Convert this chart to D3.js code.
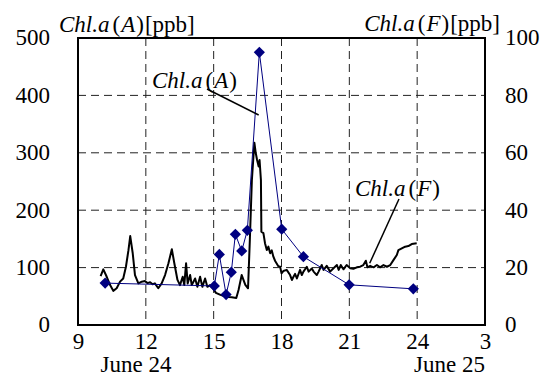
<!DOCTYPE html>
<html>
<head>
<meta charset="utf-8">
<script src="https://cdn.jsdelivr.net/npm/d3@7"></script>
<style>
  html, body { margin: 0; padding: 0; background: #fff; }
  svg { display: block; }
  svg text { font-family: "Liberation Serif", "Times New Roman", serif; }
</style>
</head>
<body>
<svg id="chart" width="542" height="376"></svg>
<script>
// Chl.a (A): sampled values, left axis [ppb]
const hoursA = [10.2, 15.03, 15.25, 15.55, 15.78, 15.96, 16.24, 16.49, 17.02, 18.01, 18.97, 20.99, 23.83];
const chlA   = [73, 68, 123, 53, 92, 158, 129, 165, 475, 167, 119, 70, 63];

// Chl.a (F): continuous fluorometer record, right axis [ppb]
const hoursF = [10.0, 10.12, 10.27, 10.42, 10.56, 10.71, 10.86, 11.0, 11.12, 11.23, 11.31, 11.42, 11.52, 11.67, 11.82, 11.96,
  12.08, 12.19, 12.3, 12.4, 12.55, 12.7, 12.85, 13.0, 13.15, 13.26, 13.4, 13.51, 13.63, 13.7, 13.78, 13.85, 13.96,
  14.03, 14.18, 14.28, 14.4, 14.5, 14.62, 14.72, 14.84, 14.99, 15.1, 15.3, 15.55, 15.8, 16.0, 16.1, 16.24, 16.4, 16.52,
  16.6, 16.69, 16.8, 16.86, 16.92, 16.99, 17.03, 17.09, 17.11, 17.2, 17.27, 17.35, 17.42, 17.5, 17.57, 17.64, 17.72,
  17.86, 17.94, 18.0, 18.08, 18.23, 18.38, 18.46, 18.53, 18.6, 18.68, 18.82, 18.9, 18.97, 19.12, 19.2, 19.34, 19.42,
  19.56, 19.64, 19.78, 19.86, 20.0, 20.15, 20.3, 20.45, 20.53, 20.62, 20.74, 20.88, 21.04, 21.18, 21.33, 21.48, 21.62,
  21.73, 21.8, 21.92, 22.07, 22.22, 22.36, 22.51, 22.66, 22.81, 22.95, 23.1, 23.17, 23.32, 23.47, 23.61, 23.76, 23.98];
const chlF   = [17.0, 19.4, 16.8, 13.9, 11.9, 12.8, 15.1, 16.2, 20.3, 26, 31, 25, 17.4, 14.5, 15.1, 15.3,
  14.6, 14.9, 14.2, 14.5, 12.8, 14.5, 17.4, 21.5, 26.4, 21.5, 15.7, 13.9, 16.8, 13.9, 21.5, 14.5, 17.4,
  13.9, 16.2, 13.3, 16.8, 13.3, 16.2, 13.3, 13.9, 12.5, 11.2, 10.5, 9.8, 9.7, 9.4, 12.2, 17.4, 14.0, 12.8,
  29.6, 50.5, 63.5, 60, 57.5, 55.2, 57.5, 50.5, 32.5, 32, 28.5, 26.1, 27.3, 25, 26, 23.8, 22.3,
  20.5, 20.3, 18, 18.8, 19.2, 17.4, 15.7, 16.8, 17.8, 16.2, 19.2, 17.4, 18.6, 20.3, 18.6, 19.7, 18.6,
  17.4, 18.6, 20.9, 19.2, 20.6, 18.6, 19.8, 20.9, 19.2, 20.9, 19.4, 20.9, 19.8, 19.6, 20.1, 20.3, 20.9,
  22.4, 20.1, 20.6, 20.1, 20.9, 20.1, 20.9, 20.3, 20.9, 22.6, 24.4, 26.1, 26.7, 27.3, 27.5, 28.2, 28.5];

// Axis ticks
const xTicks = [9, 12, 15, 18, 21, 24, 27];
const xTickLabels = ["9", "12", "15", "18", "21", "24", "3"];
const leftTicks = [0, 100, 200, 300, 400, 500];
const rightTicks = [0, 20, 40, 60, 80, 100];
const dayLabels = ["June 24", "June 25"];

const svg = d3.select("#chart");
const L = 78, R = 485, T = 38, B = 325;
const FS = 23;
const SERIF = '"Liberation Serif", "Times New Roman", serif';

const x = d3.scaleLinear().domain([9, 27]).range([L, R]);
const yA = d3.scaleLinear().domain([0, 500]).range([B, T]);
const yF = d3.scaleLinear().domain([0, 100]).range([B, T]);

// dashed grid
const grid = svg.append("g").attr("stroke", "#222").attr("stroke-width", 1).attr("stroke-dasharray", "8,5");
grid.selectAll("line.v").data(xTicks.slice(1, -1)).join("line").attr("class", "v")
  .attr("x1", d => x(d)).attr("x2", d => x(d)).attr("y1", T).attr("y2", B);
grid.selectAll("line.h").data(leftTicks.slice(1, -1)).join("line").attr("class", "h")
  .attr("x1", L).attr("x2", R).attr("y1", d => yA(d)).attr("y2", d => yA(d));

// Chl.a(F) trace
const dataF = hoursF.map((h, i) => [h, chlF[i]]);
svg.append("path").datum(dataF)
  .attr("fill", "none").attr("stroke", "#000").attr("stroke-width", 2).attr("stroke-linejoin", "round")
  .attr("d", d3.line().x(d => x(d[0])).y(d => yF(d[1])));

// Chl.a(A) line + diamonds
const dataA = hoursA.map((h, i) => [h, chlA[i]]);
svg.append("path").datum(dataA)
  .attr("fill", "none").attr("stroke", "#000080").attr("stroke-width", 1)
  .attr("d", d3.line().x(d => x(d[0])).y(d => yA(d[1])));
const diamond = d3.symbol().type(d3.symbolDiamond2).size(80);
svg.append("g").selectAll("path").data(dataA).join("path")
  .attr("transform", d => `translate(${x(d[0])},${yA(d[1])})`)
  .attr("d", diamond).attr("fill", "#000080");

// frame
svg.append("rect").attr("x", L).attr("y", T).attr("width", R - L).attr("height", B - T)
  .attr("fill", "none").attr("stroke", "#000").attr("stroke-width", 2);

// axes (labels only, no tick marks)
const axL = svg.append("g").attr("transform", `translate(${L - 28},0)`)
  .call(d3.axisLeft(yA).tickValues(leftTicks).tickSize(0).tickPadding(0));
const axR = svg.append("g").attr("transform", `translate(${R + 20},0)`)
  .call(d3.axisRight(yF).tickValues(rightTicks).tickSize(0).tickPadding(0));
const axB = svg.append("g").attr("transform", `translate(0,${B + 24})`)
  .call(d3.axisBottom(x).tickValues(xTicks).tickFormat((d, i) => xTickLabels[i]).tickSize(0).tickPadding(0));
[axL, axR, axB].forEach(a => {
  a.attr("font-family", null).attr("font-size", null);
  a.select(".domain").remove();
  a.selectAll("text").style("font-family", SERIF).style("font-size", FS + "px").attr("fill", "#000");
});
axL.selectAll("text").attr("dy", "0.3em");
axR.selectAll("text").attr("dy", "0.3em");
axB.selectAll("text").attr("dy", 0);

// day labels
svg.append("text").attr("x", 136).attr("y", 372).attr("text-anchor", "middle")
  .style("font-family", SERIF).style("font-size", FS + "px").text(dayLabels[0]);
svg.append("text").attr("x", R).attr("y", 372).attr("text-anchor", "end")
  .style("font-family", SERIF).style("font-size", FS + "px").text(dayLabels[1]);

// "Chl.a(X)" label builder
function chlLabel(xp, yp, letter, unit, anchor) {
  const t = svg.append("text").attr("x", xp).attr("y", yp).attr("text-anchor", anchor || "start")
    .style("font-family", SERIF).style("font-size", FS + "px");
  t.append("tspan").attr("font-style", "italic").text("Chl.a");
  t.append("tspan").attr("dx", 3).text("(");
  t.append("tspan").attr("dx", 1).attr("font-style", "italic").text(letter);
  t.append("tspan").attr("dx", 1).text(")");
  if (unit) t.append("tspan").attr("dx", 1).text(unit);
  return t;
}

chlLabel(59, 32, "A", "[ppb]");
chlLabel(500, 31, "F", "[ppb]", "end");
chlLabel(152, 88, "A");
chlLabel(355, 196, "F");

// leader lines
svg.append("line").attr("x1", 207).attr("y1", 89).attr("x2", x(16.99)).attr("y2", 115)
  .attr("stroke", "#000").attr("stroke-width", 1.5);
svg.append("line").attr("x1", 399).attr("y1", 199).attr("x2", x(21.9)).attr("y2", yF(21.5))
  .attr("stroke", "#000").attr("stroke-width", 1.5);
</script>
</body>
</html>
